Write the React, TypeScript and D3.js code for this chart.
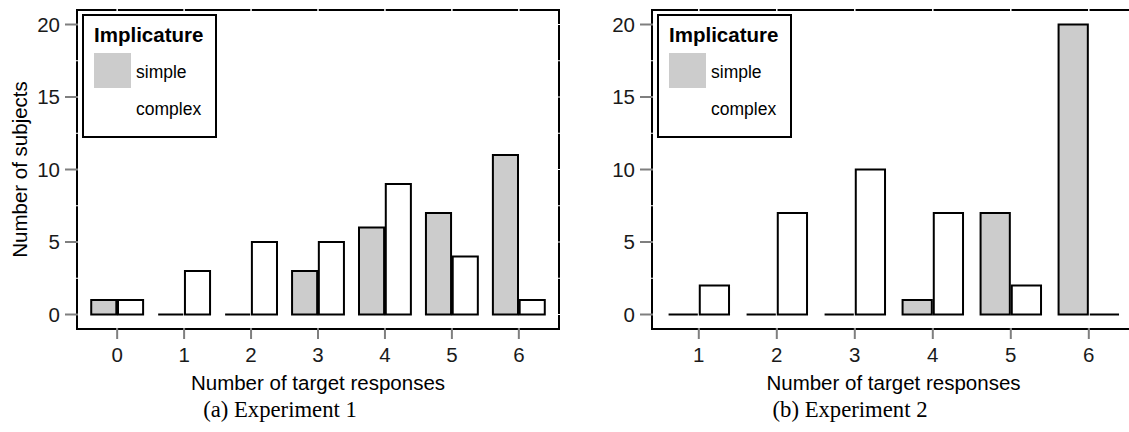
import React from "react";
import * as d3 from "d3";

// values
const CATS_1 = ["0", "1", "2", "3", "4", "5", "6"];
const SIMPLE_1 = [1, 0, 0, 3, 6, 7, 11];
const COMPLEX_1 = [1, 3, 5, 5, 9, 4, 1];

const CATS_2 = ["1", "2", "3", "4", "5", "6"];
const SIMPLE_2 = [0, 0, 0, 1, 7, 20];
const COMPLEX_2 = [2, 7, 10, 7, 2, 0];

const GROUPS = ["simple", "complex"];
const Y_TICKS = [0, 5, 10, 15, 20];
const Y_MINOR = [2.5, 7.5, 12.5, 17.5];

const FILLS: Record<string, string> = { simple: "#cccccc", complex: "#ffffff" };
const SANS = "'Liberation Sans', Arial, sans-serif";
const SERIF = "'Liberation Serif', 'Times New Roman', serif";

const TOP = 10;
const BOTTOM = 329;

type PanelProps = {
  cats: string[];
  simple: number[];
  complex: number[];
  left: number;
  width: number;
  yTitle: boolean;
  caption: string;
  captionX: number;
};

function barPath(x: number, w: number, y0: number, y1: number) {
  return `M${x},${y0}H${x + w}V${y1}H${x}Z`;
}

function Panel({ cats, simple, complex, left, width, yTitle, caption, captionX }: PanelProps) {
  const right = left + width;
  const x = d3.scaleBand<string>().domain(cats).range([left, right]).paddingInner(0).paddingOuter(0.1);
  const step = x.step();
  const xc = (c: string) => (x(c) as number) + x.bandwidth() / 2;
  const inner = d3.scaleBand<string>().domain(GROUPS).range([-0.3875 * step, 0.3875 * step]).paddingInner(0.0625);
  const y = d3.scaleLinear().domain([-1, 21]).range([BOTTOM, TOP]);
  const series: Record<string, number[]> = { simple, complex };
  const lx = left + 6;

  return (
    <g>
      {/* panel border */}
      <rect x={left} y={TOP} width={width} height={BOTTOM - TOP} fill="white" stroke="black" strokeWidth={2} />
      {/* white grid lines drawn over the border */}
      {cats.map(c => (
        <line key={"gx" + c} x1={xc(c)} x2={xc(c)} y1={TOP - 2} y2={BOTTOM + 2} stroke="white" strokeWidth={1.5} />
      ))}
      {Y_TICKS.concat(Y_MINOR).map(v => (
        <line key={"gy" + v} x1={left - 2} x2={right + 2} y1={y(v)} y2={y(v)} stroke="white" strokeWidth={1.2} />
      ))}
      {/* ticks */}
      {cats.map(c => (
        <line key={"tx" + c} x1={xc(c)} x2={xc(c)} y1={BOTTOM - 1} y2={BOTTOM + 10} stroke="#7f7f7f" strokeWidth={2} />
      ))}
      {Y_TICKS.map(v => (
        <line key={"ty" + v} x1={left - 12} x2={left + 1} y1={y(v)} y2={y(v)} stroke="#7f7f7f" strokeWidth={2} />
      ))}
      {/* bars */}
      {cats.map((c, i) =>
        GROUPS.map(gname => {
          const bx = xc(c) + (inner(gname) as number);
          return (
            <path
              key={c + gname}
              d={barPath(bx, inner.bandwidth(), y(0), y(series[gname][i]))}
              fill={FILLS[gname]}
              stroke="black"
              strokeWidth={2}
            />
          );
        })
      )}
      {/* tick labels */}
      {cats.map(c => (
        <text key={"lx" + c} x={xc(c)} y={362} textAnchor="middle" fontFamily={SANS} fontSize={20.5} fill="#1a1a1a">
          {c}
        </text>
      ))}
      {Y_TICKS.map(v => (
        <text key={"ly" + v} x={left - 17} y={y(v)} dy="0.36em" textAnchor="end" fontFamily={SANS} fontSize={20.5} fill="#1a1a1a">
          {v}
        </text>
      ))}
      {/* axis titles */}
      <text x={(left + Math.min(right, left + 483)) / 2} y={390} textAnchor="middle" fontFamily={SANS} fontSize={20.5}>
        Number of target responses
      </text>
      {yTitle && (
        <text transform={`translate(27,${(TOP + BOTTOM) / 2}) rotate(-90)`} textAnchor="middle" fontFamily={SANS} fontSize={20.5}>
          Number of subjects
        </text>
      )}
      {/* legend */}
      <rect x={lx} y={15} width={133} height={122} fill="white" stroke="black" strokeWidth={2} />
      <text x={lx + 11} y={42} fontFamily={SANS} fontSize={20.5} fontWeight="bold">
        Implicature
      </text>
      {GROUPS.map((gname, i) => (
        <g key={"lg" + gname}>
          <rect x={lx + 11} y={53 + i * 37} width={37} height={35} fill={FILLS[gname]} />
          <text x={lx + 53} y={78 + i * 37} fontFamily={SANS} fontSize={17.5}>
            {gname}
          </text>
        </g>
      ))}
      {/* caption */}
      <text x={captionX} y={417} textAnchor="middle" fontFamily={SERIF} fontSize={22.7}>
        {caption}
      </text>
    </g>
  );
}

export default function App() {
  return (
    <svg
      width={1129}
      height={432}
      style={{ position: "absolute", left: 0, top: 0, display: "block", background: "white" }}
    >
      <rect width={1129} height={432} fill="white" />
      <Panel cats={CATS_1} simple={SIMPLE_1} complex={COMPLEX_1} left={77} width={482} yTitle={true} caption="(a) Experiment 1" captionX={280} />
      <Panel cats={CATS_2} simple={SIMPLE_2} complex={COMPLEX_2} left={652} width={483.6} yTitle={false} caption="(b) Experiment 2" captionX={850} />
    </svg>
  );
}
